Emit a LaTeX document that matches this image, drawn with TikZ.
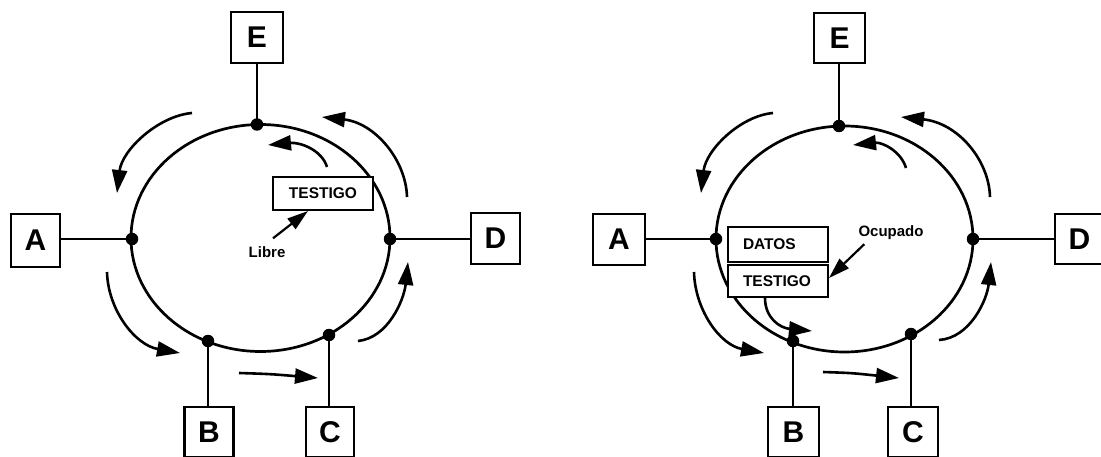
\documentclass[tikz,border=0pt]{standalone}
\usepackage{fontspec}
\setmainfont{Liberation Sans}
\usetikzlibrary{arrows.meta}
\begin{document}
\begin{tikzpicture}[x=1pt,y=-1pt,
 station/.style={draw, line width=2.2pt, fill=white, inner sep=0pt, font=\fontsize{30}{30}\selectfont\bfseries},
 tag/.style={draw, line width=2pt, fill=white, inner sep=0pt, font=\fontsize{15.5}{16}\selectfont\bfseries},
 lbl/.style={inner sep=0pt, font=\fontsize{15}{15}\selectfont\bfseries},
 dot/.style={circle, fill, inner sep=0pt, minimum size=12.5pt},
 ring/.style={line width=2.7pt},
 link/.style={line width=2.2pt},
 flow/.style={line width=2.6pt, -{Triangle[length=23pt,width=15pt]}},
 pointer/.style={line width=2.2pt, -{Triangle[length=21pt,width=13pt]}},
]
\clip (0,0) rectangle (1101,457);
\fill[white] (0,0) rectangle (1101,457);

% ---------------- left ring ----------------
\draw[ring] (260.5,238) ellipse [x radius=129.5, y radius=113.5];
\node[dot] (a1) at (132,239) {};
\node[dot] (d1) at (390,239) {};
\node[dot] (e1) at (257,124.5) {};
\node[dot] (b1) at (208,341) {};
\node[dot] (c1) at (329,335) {};

\node[station, minimum width=52pt, minimum height=51pt] (E1) at (257,37.5) {E};
\node[station, minimum width=49pt, minimum height=53pt] (A1) at (35.5,240.5) {A};
\node[station, minimum width=49pt, minimum height=51pt] (D1) at (495.5,238.5) {D};
\node[station, minimum width=49pt, minimum height=50pt] (B1) at (209,432) {B};
\node[station, minimum width=48pt, minimum height=50pt] (C1) at (330,432) {C};

\draw[link] (E1.south -| e1) -- (e1.center);
\draw[link] (a1 -| A1.east) -- (a1.center);
\draw[link] (d1.center) -- (d1 -| D1.west);
\draw[link] (b1.center) -- (b1 |- B1.north);
\draw[link] (c1.center) -- (c1 |- C1.north);

\node[tag, minimum width=100pt, minimum height=33pt] (T1) at (323,193.5) {TESTIGO};
\node[lbl] (libre) at (267,252) {Libre};
\draw[pointer] ([shift={(6,-8)}]libre.north) -- ([xshift=-15pt]T1.south);

\draw[flow] (192,113) .. controls (158,116) and (122,150) .. (117,193);
\draw[flow] (407,197) .. controls (406,160) and (375,123) .. (322,117);
\draw[flow] (107,272) .. controls (108,310) and (135,345) .. (180,353);
\draw[flow] (358,341) .. controls (388,338) and (404,300) .. (408,262);
\draw[flow] (239,373) .. controls (270,374) .. (318,378);
\draw[flow] (327,167) .. controls (322,150) and (300,142) .. (268,145);

% ---------------- right ring ----------------
\draw[ring] (844.5,239) ellipse [x radius=128.5, y radius=113];
\node[dot] (a2) at (716,239) {};
\node[dot] (d2) at (973,239) {};
\node[dot] (e2) at (839,126) {};
\node[dot] (b2) at (793,341) {};
\node[dot] (c2) at (911,334) {};

\node[station, minimum width=51pt, minimum height=50pt] (E2) at (839.5,38) {E};
\node[station, minimum width=52pt, minimum height=51pt] (A2) at (619,239.5) {A};
\node[station, minimum width=49pt, minimum height=50pt] (D2) at (1079.5,239) {D};
\node[station, minimum width=51pt, minimum height=50pt] (B2) at (793.5,432) {B};
\node[station, minimum width=50pt, minimum height=50pt] (C2) at (913,432) {C};

\draw[link] (E2.south -| e2) -- (e2.center);
\draw[link] (a2 -| A2.east) -- (a2.center);
\draw[link] (d2.center) -- (d2 -| D2.west);
\draw[link] (b2.center) -- (b2 |- B2.north);
\draw[link] (c2.center) -- (c2 |- C2.north);

\node[tag, minimum width=100pt, minimum height=35pt, text width=70pt, align=left] (D2box) at (778,244.5) {DATOS};
\node[tag, minimum width=100pt, minimum height=32pt, text width=70pt, align=left] (T2) at (778,281) {TESTIGO};
\node[lbl] (ocu) at (891,233) {Ocupado};
\draw[pointer] ([shift={(6,4)}]ocu.south west) -- ([yshift=3pt]T2.east);

\draw[flow] (773,113) .. controls (740,116) and (706,150) .. (701,193);
\draw[flow] (990,197) .. controls (989,160) and (958,123) .. (901,117);
\draw[flow] (694,272) .. controls (695,310) and (720,345) .. (764,353);
\draw[flow] (939,340) .. controls (970,338) and (987,300) .. (991,262);
\draw[flow] (823,372) .. controls (852,373) .. (899,378);
\draw[flow] (906,168) .. controls (901,151) and (882,142) .. (853,145);
\draw[flow] ([xshift=-13pt]T2.south) .. controls (765,318) and (780,328) .. (812,331);
\end{tikzpicture}
\end{document}
